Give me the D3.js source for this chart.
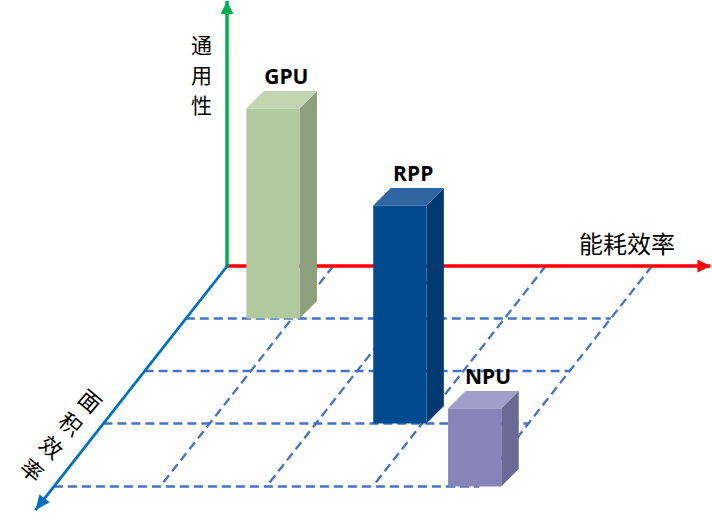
<!DOCTYPE html>
<html>
<head>
<meta charset="utf-8">
<script src="https://cdn.jsdelivr.net/npm/d3@7"></script>
<style>
  html, body { margin: 0; padding: 0; background: #fff; }
  svg { display: block; }
</style>
</head>
<body>
<svg id="chart" width="712" height="513"></svg>
<script>
// ---------- data ----------
const categories = ["GPU", "RPP", "NPU"];
const energyValues = [0.57, 2.54, 3.71];     // 能耗效率 (position along red axis)
const areaValues = [1, 3, 4.2];              // 面积效率 (position along blue axis)
const generalityValues = [8.4, 8.72, 3.12];  // 通用性 (bar height)
const energyGrid = [1, 2, 3, 4];
const areaGrid = [1, 2, 3, 4.2];
const axisTitles = { energy: "能耗效率", generality: "通用性", area: "面积效率" };
const barFront = ["#B0C99F", "#024A8E", "#8784B8"];
const barTop = ["#C1D5B1", "#2F66A1", "#A19ECA"];
const barSide = ["#8DA07E", "#013A70", "#6B6996"];

// ---------- scales / projection ----------
const originX = 227, originY = 266;
const xScale = d3.scaleLinear().domain([0, 4]).range([originX, 652]);
const zScale = d3.scaleLinear().domain([0, 1]).range([0, 52.5]);
const hScale = d3.scaleLinear().domain([0, 10]).range([0, 250]);
const shear = 0.785;
function project(x, z, h) {
  const dz = zScale(z);
  return [xScale(x) - shear * dz, originY + dz - hScale(h || 0)];
}
const barW = 0.5;   // in energy units
const depth = 17.5; // oblique depth in px

const svg = d3.select("#chart");
const defs = svg.append("defs");
function marker(id, color, len, half) {
  defs.append("marker").attr("id", id)
    .attr("viewBox", `0 0 ${len} ${half * 2}`)
    .attr("refX", len).attr("refY", half)
    .attr("markerWidth", len).attr("markerHeight", half * 2)
    .attr("markerUnits", "userSpaceOnUse")
    .attr("orient", "auto")
    .append("path").attr("d", `M0,0L${len},${half}L0,${half * 2}Z`).attr("fill", color);
}
marker("arrRed", "#FF0000", 13, 6.5);
marker("arrGreen", "#00B050", 13, 6.5);
marker("arrBlue", "#0070C0", 15, 6.5);

// ---------- grid ----------
const gridColor = "#4472C4";
const zMax = d3.max(areaGrid), xMax = d3.max(energyGrid);
const grid = svg.append("g").attr("stroke", gridColor).attr("stroke-width", 2.3)
  .attr("stroke-dasharray", "9,5").attr("fill", "none");
grid.selectAll("line.h").data(areaGrid).join("line").attr("class", "h")
  .attr("x1", d => project(0, d)[0]).attr("y1", d => project(0, d)[1])
  .attr("x2", d => project(xMax, d)[0]).attr("y2", d => project(xMax, d)[1]);
grid.selectAll("line.d").data(energyGrid).join("line").attr("class", "d")
  .attr("x1", d => project(d, 0)[0]).attr("y1", d => project(d, 0)[1])
  .attr("x2", d => project(d, zMax)[0]).attr("y2", d => project(d, zMax)[1]);

// ---------- axes ----------
const o = project(0, 0, 0);
const redEnd = [xScale(4.55), originY];
const greenEnd = project(0, 0, 10.6);
const blueEnd = project(0, 4.65, 0);
svg.append("line").attr("x1", o[0]).attr("y1", o[1]).attr("x2", redEnd[0]).attr("y2", redEnd[1])
  .attr("stroke", "#FF0000").attr("stroke-width", 3.5).attr("marker-end", "url(#arrRed)");
svg.append("line").attr("x1", o[0]).attr("y1", o[1] + 1.5).attr("x2", greenEnd[0]).attr("y2", greenEnd[1])
  .attr("stroke", "#00B050").attr("stroke-width", 3.5).attr("marker-end", "url(#arrGreen)");
svg.append("line").attr("x1", o[0] + 1).attr("y1", o[1] - 1).attr("x2", blueEnd[0]).attr("y2", blueEnd[1])
  .attr("stroke", "#0070C0").attr("stroke-width", 2.8).attr("marker-end", "url(#arrBlue)");

// ---------- bars ----------
const bars = svg.append("g");
categories.forEach((c, i) => {
  const bl = project(energyValues[i], areaValues[i], 0);
  const tl = project(energyValues[i], areaValues[i], generalityValues[i]);
  const w = xScale(barW) - xScale(0);
  const x0 = bl[0], x1 = bl[0] + w, yb = bl[1], yt = tl[1];
  const g = bars.append("g");
  g.append("path").attr("fill", barSide[i])
    .attr("d", `M${x1},${yb}L${x1 + depth},${yb - depth}L${x1 + depth},${yt - depth}L${x1},${yt}Z`);
  g.append("path").attr("fill", barTop[i])
    .attr("d", `M${x0},${yt}L${x0 + depth},${yt - depth}L${x1 + depth},${yt - depth}L${x1},${yt}Z`);
  g.append("rect").attr("fill", barFront[i])
    .attr("x", x0).attr("y", yt).attr("width", w).attr("height", yb - yt);
  g.append("text").text(c)
    .attr("x", x0 + 40).attr("y", yt - 25)
    .attr("text-anchor", "middle")
    .attr("font-family", "'Open Sans', 'Noto Sans', sans-serif")
    .attr("font-weight", 700).attr("font-size", 21).attr("fill", "#000");
});

// ---------- axis titles ----------
const cjk = "'Noto Sans CJK SC', 'Noto Sans', sans-serif";
svg.append("text").text(axisTitles.energy)
  .attr("x", 627).attr("y", 242).attr("dominant-baseline", "central")
  .attr("text-anchor", "middle").attr("font-family", cjk).attr("font-size", 24)
  .attr("fill", "#000");

// 通用性: stacked characters
svg.append("g").selectAll("text").data(Array.from(axisTitles.generality)).join("text")
  .text(d => d)
  .attr("x", 201.5).attr("y", (d, k) => 44 + k * 30)
  .attr("dominant-baseline", "central")
  .attr("text-anchor", "middle").attr("font-family", cjk).attr("font-size", 21)
  .attr("fill", "#000");

// 面积效率: stacked characters rotated along the depth axis
const ang = 40, rad = ang * Math.PI / 180;
svg.append("g").selectAll("text").data(Array.from(axisTitles.area)).join("text")
  .text(d => d)
  .attr("transform", (d, k) =>
    `translate(${91 - Math.sin(rad) * 30 * k},${400 + Math.cos(rad) * 30 * k}) rotate(${ang})`)
  .attr("dominant-baseline", "central")
  .attr("text-anchor", "middle").attr("font-family", cjk).attr("font-size", 22)
  .attr("fill", "#000");
</script>
</body>
</html>
